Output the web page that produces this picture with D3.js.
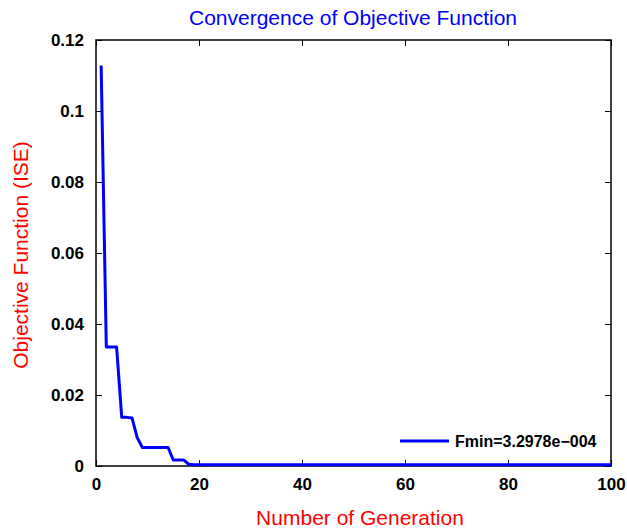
<!DOCTYPE html>
<html>
<head>
<meta charset="utf-8">
<script src="https://cdn.jsdelivr.net/npm/d3@7"></script>
<style>
  html, body { margin: 0; padding: 0; background: #fff; }
  svg { display: block; font-family: "Liberation Sans", Arial, sans-serif; }
</style>
</head>
<body>
<svg id="chart" width="627" height="530"></svg>
<script>
// Best objective value (ISE) per generation
const generations = d3.range(1, 101);
const bestISE = [
  0.1128, 0.0335, 0.0335, 0.0335, 0.0137, 0.0137, 0.0135, 0.0080, 0.0052, 0.0052,
  0.0052, 0.0052, 0.0052, 0.0052, 0.0017, 0.0017, 0.0017, 0.0005, 0.00035, 0.00033,
  ...Array(80).fill(0.00032978)
];
const xTicks = [0, 20, 40, 60, 80, 100];
const yTicks = [0, 0.02, 0.04, 0.06, 0.08, 0.1, 0.12];
const yTickLabels = ["0", "0.02", "0.04", "0.06", "0.08", "0.1", "0.12"];
const legendLabel = "Fmin=3.2978e\u2212004";

const svg = d3.select("#chart");
const m = { left: 96, right: 611, top: 40, bottom: 466 };

const x = d3.scaleLinear().domain([0, 100]).range([m.left, m.right]);
const y = d3.scaleLinear().domain([0, 0.12]).range([m.bottom, m.top]);

// Box outline
svg.append("rect")
  .attr("x", m.left).attr("y", m.top)
  .attr("width", m.right - m.left).attr("height", m.bottom - m.top)
  .attr("fill", "none").attr("stroke", "#000").attr("stroke-width", 1.5);

// Axes with inward ticks
const tickStyle = g => {
  g.select(".domain").remove();
  g.selectAll(".tick line").attr("stroke", "#000").attr("stroke-width", 1);
  g.selectAll(".tick text")
    .attr("font-size", 17).attr("font-weight", "bold").attr("fill", "#000")
    .attr("font-family", "'Liberation Sans', Arial, sans-serif");
};

svg.append("g").attr("transform", `translate(0,${m.bottom})`)
  .call(d3.axisBottom(x).tickValues(xTicks).tickSizeInner(-6).tickSizeOuter(0).tickPadding(12))
  .call(tickStyle);
svg.append("g").attr("transform", `translate(0,${m.top})`)
  .call(d3.axisTop(x).tickValues(xTicks).tickSizeInner(-6).tickSizeOuter(0).tickFormat(""))
  .call(tickStyle);
svg.append("g").attr("transform", `translate(${m.left},0)`)
  .call(d3.axisLeft(y).tickValues(yTicks).tickSizeInner(-6).tickSizeOuter(0).tickPadding(12)
    .tickFormat((d, i) => yTickLabels[i]))
  .call(tickStyle);
svg.append("g").attr("transform", `translate(${m.right},0)`)
  .call(d3.axisRight(y).tickValues(yTicks).tickSizeInner(-6).tickSizeOuter(0).tickFormat(""))
  .call(tickStyle);

// Convergence curve
const line = d3.line().x((d, i) => x(generations[i])).y(d => y(d));
svg.append("path").datum(bestISE)
  .attr("d", line)
  .attr("fill", "none").attr("stroke", "#0000ff").attr("stroke-width", 3)
  .attr("stroke-linejoin", "round");

// Legend
svg.append("line")
  .attr("x1", 400).attr("x2", 449).attr("y1", 441).attr("y2", 441)
  .attr("stroke", "#0000ff").attr("stroke-width", 3);
svg.append("text")
  .attr("x", 455).attr("y", 447)
  .attr("font-size", 16).attr("font-weight", "bold").attr("fill", "#000")
  .text(legendLabel);

// Titles
svg.append("text")
  .attr("x", 353).attr("y", 25).attr("text-anchor", "middle")
  .attr("font-size", 21).attr("fill", "#0000ff")
  .text("Convergence of Objective Function");
svg.append("text")
  .attr("x", 360).attr("y", 525).attr("text-anchor", "middle")
  .attr("font-size", 21).attr("fill", "#ff0000")
  .text("Number of Generation");
svg.append("text")
  .attr("transform", "translate(28,255) rotate(-90)").attr("text-anchor", "middle")
  .attr("font-size", 21).attr("fill", "#ff0000")
  .text("Objective Function (ISE)");
</script>
</body>
</html>
